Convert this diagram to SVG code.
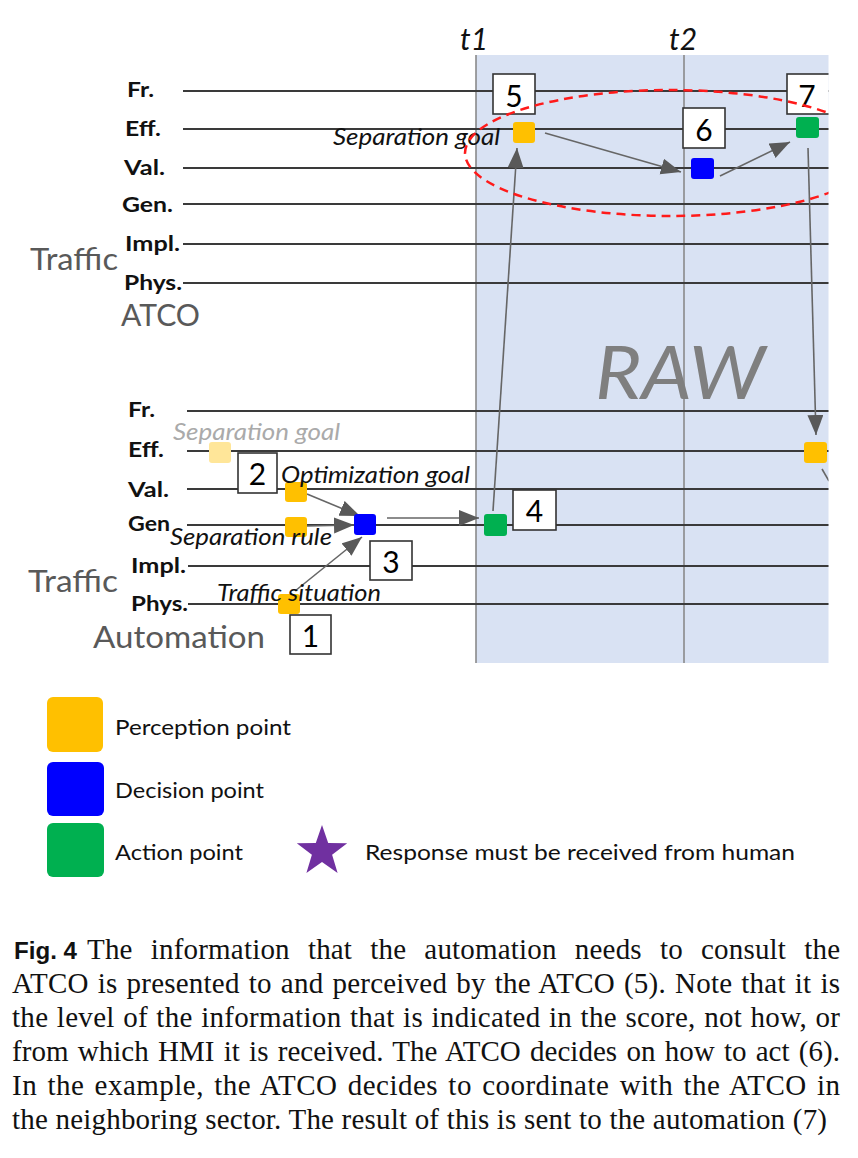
<svg xmlns="http://www.w3.org/2000/svg" width="858" height="1158" viewBox="0 0 858 1158">
<style>
.lvl{font-family:Lato,"Liberation Sans",sans-serif;font-weight:bold;font-size:21px;fill:#111}
.big{font-family:Lato,"Liberation Sans",sans-serif;font-size:30px;fill:#595959}
.it{font-family:Lato,"Liberation Sans",sans-serif;font-style:italic;font-size:23px;fill:#111}
.num{font-family:Lato,"Liberation Sans",sans-serif;font-size:30px;fill:#000;text-anchor:middle}
.hl{stroke:#3a3a3a;stroke-width:2;fill:none}
.vl{stroke:#8a8a8a;stroke-width:1.6;fill:none}
.ar{stroke:#666;stroke-width:1.6;fill:none;marker-end:url(#ah)}
.box{fill:#fff;stroke:#333;stroke-width:1.6}
.leg{font-family:Lato,"Liberation Sans",sans-serif;font-size:22px;fill:#111}
.cap{font-family:"Liberation Serif","Times New Roman",serif;font-size:29px;fill:#111}
</style>
<defs>
<marker id="ah" markerUnits="userSpaceOnUse" markerWidth="22" markerHeight="18" refX="20" refY="8" orient="auto">
<path d="M0,0 L20,8 L0,16 z" fill="#595959"/>
</marker>
<clipPath id="clip"><rect x="0" y="0" width="828.5" height="700"/></clipPath>
</defs>
<rect width="858" height="1158" fill="#fff"/>
<g clip-path="url(#clip)">
<rect id="raw-region" x="476" y="55" width="360" height="608" fill="#D9E2F3"/>
<g id="timelines">
<line class="vl" x1="476" y1="55" x2="476" y2="663"/>
<line class="vl" x1="684" y1="55" x2="684" y2="663"/>
</g>
<text x="460" y="50" font-family="Lato,'Liberation Sans',sans-serif" font-style="italic" font-size="30" fill="#111">t1</text>
<text x="669" y="50" font-family="Lato,'Liberation Sans',sans-serif" font-style="italic" font-size="30" fill="#111">t2</text>
<text x="595" y="399" font-family="Lato,'Liberation Sans',sans-serif" font-style="italic" font-size="74" fill="#7f7f7f" textLength="170" lengthAdjust="spacingAndGlyphs">RAW</text>
<g id="atco-levels">
<line class="hl" x1="183" y1="91" x2="836" y2="91"/>
<line class="hl" x1="183" y1="129" x2="836" y2="129"/>
<line class="hl" x1="183" y1="168" x2="836" y2="168"/>
<line class="hl" x1="183" y1="204" x2="836" y2="204"/>
<line class="hl" x1="183" y1="244" x2="836" y2="244"/>
<line class="hl" x1="183" y1="283" x2="836" y2="283"/>
<text class="lvl" x="127" y="97" textLength="27" lengthAdjust="spacingAndGlyphs">Fr.</text>
<text class="lvl" x="125" y="136" textLength="36" lengthAdjust="spacingAndGlyphs">Eff.</text>
<text class="lvl" x="124" y="175" textLength="41" lengthAdjust="spacingAndGlyphs">Val.</text>
<text class="lvl" x="122" y="212" textLength="51" lengthAdjust="spacingAndGlyphs">Gen.</text>
<text class="lvl" x="125" y="251" textLength="55" lengthAdjust="spacingAndGlyphs">Impl.</text>
<text class="lvl" x="124" y="290" textLength="58" lengthAdjust="spacingAndGlyphs">Phys.</text>
<text class="big" x="30" y="270" textLength="88" lengthAdjust="spacingAndGlyphs">Traffic</text>
<text class="big" x="121" y="326" textLength="79" lengthAdjust="spacingAndGlyphs">ATCO</text>
</g>
<g id="automation-levels">
<line class="hl" x1="187" y1="411" x2="836" y2="411"/>
<line class="hl" x1="187" y1="451" x2="836" y2="451"/>
<line class="hl" x1="187" y1="489" x2="836" y2="489"/>
<line class="hl" x1="187" y1="525" x2="836" y2="525"/>
<line class="hl" x1="188" y1="566" x2="836" y2="566"/>
<line class="hl" x1="188" y1="604" x2="836" y2="604"/>
<text class="lvl" x="128" y="417" textLength="27" lengthAdjust="spacingAndGlyphs">Fr.</text>
<text class="lvl" x="128" y="457" textLength="36" lengthAdjust="spacingAndGlyphs">Eff.</text>
<text class="lvl" x="128" y="497" textLength="41" lengthAdjust="spacingAndGlyphs">Val.</text>
<text class="lvl" x="128" y="531" textLength="42" lengthAdjust="spacingAndGlyphs">Gen</text>
<text class="lvl" x="131" y="573" textLength="55" lengthAdjust="spacingAndGlyphs">Impl.</text>
<text class="lvl" x="131" y="611" textLength="57" lengthAdjust="spacingAndGlyphs">Phys.</text>
<text class="big" x="28" y="592" textLength="90" lengthAdjust="spacingAndGlyphs">Traffic</text>
<text class="big" x="93" y="648" textLength="172" lengthAdjust="spacingAndGlyphs">Automation</text>
</g>
<g id="connectors">
<line class="ar" x1="307" y1="494" x2="360" y2="516"/>
<line class="ar" x1="307" y1="526" x2="354" y2="525"/>
<line class="ar" x1="295" y1="591" x2="362" y2="537"/>
<line class="ar" x1="387" y1="518" x2="479" y2="518"/>
<line class="ar" x1="493" y1="511" x2="517" y2="148"/>
<line class="ar" x1="545" y1="133" x2="681" y2="172"/>
<line class="ar" x1="720" y1="176" x2="790" y2="142"/>
<line class="ar" x1="808" y1="148" x2="816" y2="435"/>
<line stroke="#666" stroke-width="1.6" x1="822" y1="469" x2="829" y2="481"/>
</g>
<g id="n-sepgoal-pale"><rect x="209" y="442" width="22" height="21" rx="3" fill="#FFE699"/></g>
<text class="it" x="173" y="440" style="fill:#aaaaaa" textLength="167" lengthAdjust="spacingAndGlyphs">Separation goal</text>
<g id="n2"><rect class="box" x="238" y="453" width="39" height="40"/><text class="num" x="257.5" y="485">2</text></g>
<g id="n-optgoal"><rect x="285" y="482" width="22" height="20" rx="3" fill="#FFC000"/></g>
<text class="it" x="281" y="483" textLength="189" lengthAdjust="spacingAndGlyphs">Optimization goal</text>
<g id="n-seprule"><rect x="285" y="517" width="22" height="20" rx="3" fill="#FFC000"/></g>
<text class="it" x="170" y="545" textLength="162" lengthAdjust="spacingAndGlyphs">Separation rule</text>
<g id="n3-decision"><rect x="354" y="514" width="22" height="21" rx="3" fill="#0000FF"/></g>
<g id="n3"><rect class="box" x="370" y="541" width="42" height="39"/><text class="num" x="391" y="573">3</text></g>
<g id="n1-perception"><rect x="278" y="594" width="22" height="20" rx="3" fill="#FFC000"/></g>
<text class="it" x="217" y="601" textLength="164" lengthAdjust="spacingAndGlyphs">Traffic situation</text>
<g id="n1"><rect class="box" x="290" y="615" width="41" height="39"/><text class="num" x="310.5" y="647">1</text></g>
<g id="n4-action"><rect x="484" y="514" width="23" height="22" rx="3" fill="#00B050"/></g>
<g id="n4"><rect class="box" x="513" y="490" width="43" height="40"/><text class="num" x="534.5" y="522">4</text></g>
<g id="n5-perception"><rect x="513" y="122" width="22" height="21" rx="3" fill="#FFC000"/></g>
<g id="n5"><rect class="box" x="493" y="74" width="42" height="40"/><text class="num" x="514" y="107">5</text></g>
<text class="it" x="333" y="145" textLength="167" lengthAdjust="spacingAndGlyphs">Separation goal</text>
<g id="n6-decision"><rect x="691" y="158" width="23" height="21" rx="3" fill="#0000FF"/></g>
<g id="n6"><rect class="box" x="683" y="108" width="42" height="40"/><text class="num" x="704" y="141">6</text></g>
<g id="n7-action"><rect x="796" y="117" width="23" height="21" rx="3" fill="#00B050"/></g>
<g id="n7"><rect class="box" x="787" y="74" width="50" height="40"/><text class="num" x="807" y="107">7</text></g>
<g id="n8-perception"><rect x="804" y="442" width="23" height="21" rx="3" fill="#FFC000"/></g>
<ellipse cx="670" cy="153" rx="205" ry="63" fill="none" stroke="#ff1a1a" stroke-width="2.5" stroke-dasharray="9 6"/>
</g>
<g id="legend">
<rect x="47" y="697" width="56" height="55" rx="6" fill="#FFC000"/>
<text class="leg" x="115" y="735" textLength="176" lengthAdjust="spacingAndGlyphs">Perception point</text>
<rect x="47" y="762" width="57" height="54" rx="6" fill="#0000FF"/>
<text class="leg" x="115" y="798" textLength="149" lengthAdjust="spacingAndGlyphs">Decision point</text>
<rect x="47" y="823" width="57" height="54" rx="6" fill="#00B050"/>
<text class="leg" x="115" y="860" textLength="128" lengthAdjust="spacingAndGlyphs">Action point</text>
<polygon points="322,825 328.2,842.9 347.2,843.3 332.1,854.8 337.6,872.9 322,862.1 306.4,872.9 311.9,854.8 296.8,843.3 315.8,842.9" fill="#7030A0"/>
<text class="leg" x="365" y="860" textLength="430" lengthAdjust="spacingAndGlyphs">Response must be received from human</text>
</g>
<g id="caption">
<text x="14" y="959" font-family="'Liberation Sans',Arial,sans-serif" font-weight="bold" font-size="24" fill="#111" textLength="63" lengthAdjust="spacingAndGlyphs">Fig. 4</text>
<text class="cap" x="87" y="959" word-spacing="10.7" textLength="753" lengthAdjust="spacing">The information that the automation needs to consult the</text>
<text class="cap" x="12" y="993" word-spacing="1.6" textLength="828" lengthAdjust="spacing">ATCO is presented to and perceived by the ATCO (5). Note that it is</text>
<text class="cap" x="12" y="1027" word-spacing="0.9" textLength="828" lengthAdjust="spacing">the level of the information that is indicated in the score, not how, or</text>
<text class="cap" x="12" y="1061" word-spacing="1.9" textLength="828" lengthAdjust="spacing">from which HMI it is received. The ATCO decides on how to act (6).</text>
<text class="cap" x="12" y="1095" word-spacing="2.6" textLength="828" lengthAdjust="spacing">In the example, the ATCO decides to coordinate with the ATCO in</text>
<text class="cap" x="12" y="1129" textLength="815" lengthAdjust="spacing">the neighboring sector. The result of this is sent to the automation (7)</text>
</g>
</svg>
